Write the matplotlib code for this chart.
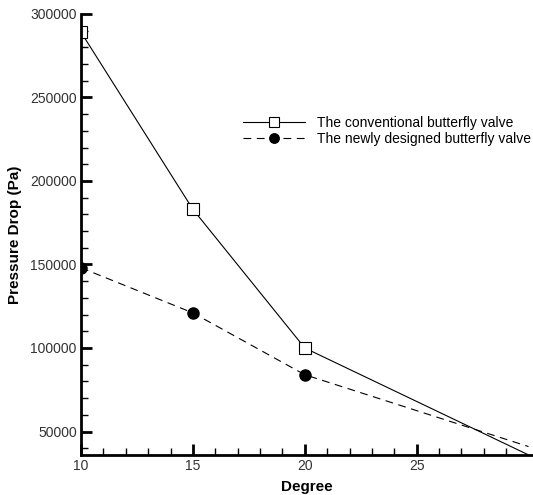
import matplotlib.pyplot as plt
import numpy as np
from matplotlib.ticker import MultipleLocator, FixedLocator

plt.rcParams['font.family'] = ['Liberation Sans', 'DejaVu Sans']

# data
degree = [10, 15, 20, 30]
conventional = [289000, 183000, 100000, 36000]
newly = [148000, 121000, 84000, 41000]

fig = plt.figure(figsize=(5.33, 4.95), dpi=100)
ax = fig.add_axes([0.152, 0.081, 0.848, 0.891])

# markers only at the measured points, last point is off to the right
ax.plot(degree, conventional, color='black', linewidth=0.8, linestyle='-',
        marker='s', markersize=8, markerfacecolor='white', markeredgecolor='black',
        markeredgewidth=0.8, markevery=[0, 1, 2], label='The conventional butterfly valve')
ax.plot(degree, newly, color='black', linewidth=0.8, linestyle=(0, (7, 5)),
        marker='o', markersize=8, markerfacecolor='black', markevery=[0, 1, 2],
        label='The newly designed butterfly valve')

ax.set_xlim(10, 30.2)
ax.set_ylim(36000, 300000)

ax.xaxis.set_major_locator(FixedLocator([10, 15, 20, 25]))
ax.xaxis.set_minor_locator(FixedLocator([11, 12, 13, 14, 16, 17, 18, 19, 21, 22, 23, 24, 26, 27, 28, 29]))
ax.yaxis.set_major_locator(MultipleLocator(50000))
ax.yaxis.set_minor_locator(MultipleLocator(10000))
ax.tick_params(which='major', direction='in', length=8, width=2, labelsize=10,
               labelcolor='#333333', pad=3)
ax.tick_params(which='minor', direction='in', length=5, width=1)

for s in ['top', 'right']:
    ax.spines[s].set_visible(False)
for s in ['left', 'bottom']:
    ax.spines[s].set_linewidth(2)

ax.set_xlabel('Degree', fontsize=11, fontweight='bold', labelpad=5)
ax.set_ylabel('Pressure Drop (Pa)', fontsize=11, fontweight='bold', labelpad=6)

ax.legend(loc='upper left', bbox_to_anchor=(0.331, 0.797), frameon=False, fontsize=10,
          handlelength=4.45, handletextpad=0.85, labelspacing=0.15, markerscale=0.85)

fig.savefig('out.png', dpi=100)
